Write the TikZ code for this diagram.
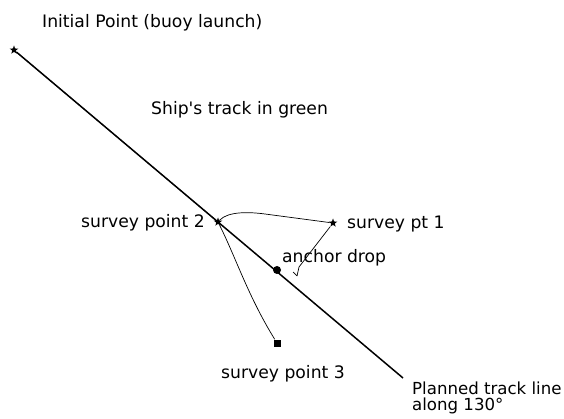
\documentclass[tikz,border=0pt]{standalone}
\usepackage{fontspec}
\setmainfont{DejaVu Sans}
\usetikzlibrary{shapes.geometric, positioning}
\tikzstyle{fix} = [star, star points=5, star point ratio=2.4, fill=black, inner sep=0pt, minimum size=9pt]
\tikzstyle{drop} = [circle, fill=black, inner sep=0pt, minimum size=8pt]
\tikzstyle{mark3} = [rectangle, fill=black, inner sep=0pt, minimum size=7pt]
\tikzstyle{label} = [inner sep=0pt, font=\fontsize{17.2}{15.5}\selectfont]
\tikzstyle{planned} = [line width=1.5pt]
\tikzstyle{track} = [line width=0.7pt]

\begin{document}
\begin{tikzpicture}[x=1pt, y=-1pt]
            \useasboundingbox (0,0) rectangle (564,419);
            \node (init) [fix] at (14,50) {};
            \node (sp2) [fix] at (218,222) {};
            \node (sp1) [fix] at (333,223) {};
            \node (anchor) [drop] at (277,270) {};
            \node (sp3) [mark3] at (277,343) {};
            \coordinate (trackend) at (403,378);
            \coordinate (hook) at (297,276);

            \node (initlabel) [label, anchor=base west] at (42,28) {Initial Point (buoy launch)};
            \node (shiplabel) [label, anchor=base west] at (151,115) {Ship\textquotesingle s track in green};
            \node (sp2label) [label, anchor=base east] at (205,228) {survey point 2};
            \node (sp1label) [label, anchor=base west] at (347,229) {survey pt 1};
            \node (anchorlabel) [label, anchor=base west] at (282,262) {anchor drop};
            \node (sp3label) [label, anchor=base west] at (221,378) {survey point 3};
            \node (endlabel) [label, anchor=north west, align=left, font=\fontsize{16.6}{15.5}\selectfont] at (412,382) {Planned track line\\along 130°};

            \draw [planned] (init) -- (trackend);
            \draw [track] (init) -- (sp2);
            \draw [track] (sp2) .. controls (228,211) and (250,212) .. (265,214) -- (sp1);
            \draw [track] (sp1) -- (299,267) -- (hook);
            \draw [track] (293,272) -- (hook);
            \draw [track] (sp2) .. controls (236,258) and (248,296) .. (sp3);

            \end{tikzpicture}
\end{document}
